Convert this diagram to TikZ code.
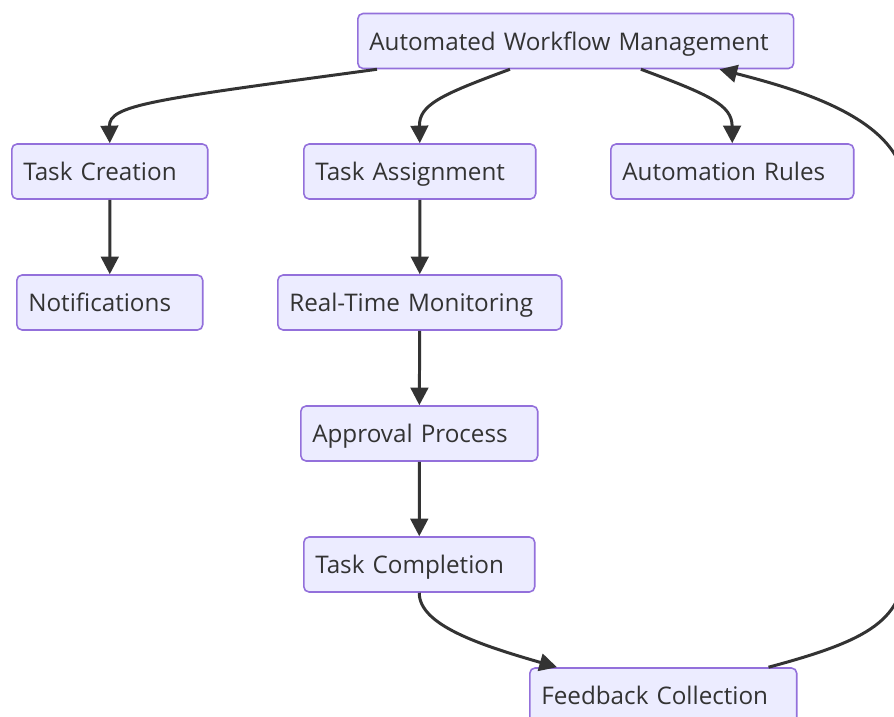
\documentclass[tikz,border=0pt]{standalone}
\usepackage{fontspec}
\setmainfont{Open Sans}
\usetikzlibrary{arrows.meta}
\definecolor{wfFill}{HTML}{ECECFF}
\definecolor{wfStroke}{HTML}{9370DB}
\definecolor{wfInk}{HTML}{333333}
\hyphenpenalty=10000

\begin{document}
\begin{tikzpicture}[
  x=0.02cm, y=-0.02cm,
  box/.style={
    rectangle, rounded corners=3pt, draw=wfStroke, fill=wfFill,
    line width=0.9pt, minimum height=1.1cm, inner xsep=0.23cm,
    text width=#1, align=left, anchor=west, text=wfInk,
    text height=1.04em, text depth=0pt,
    font=\fontsize{13.8}{16}\selectfont,
  },
  arr/.style={-{Triangle[length=10pt,width=10pt]}, line width=1.7pt, color=wfInk},
]
\clip (0,0) rectangle (894,717);

% Top node and its three children
\node[box=8.26cm] (awm) at (357,41) {Automated Workflow Management};
\node[box=3.46cm] (tcr) at (11,171.5)  {Task Creation};
\node[box=4.18cm] (tas) at (303,171.5) {Task Assignment};
\node[box=4.40cm] (aru) at (610,171.5) {Automation Rules};

% Lower rows
\node[box=3.26cm] (not) at (16,302.5)  {Notifications};
\node[box=5.22cm] (rtm) at (277,302.5) {Real-Time Monitoring};
\node[box=4.28cm] (apr) at (300,433.5) {Approval Process};
\node[box=4.16cm] (tco) at (303,564.5) {Task Completion};
\node[box=4.88cm] (fbc) at (529,695.5) {Feedback Collection};

\draw[arr] ([xshift=0.4cm]awm.south west) .. controls (150,100) and (109,105) .. (tcr.north);
\draw[arr] ([xshift=3.06cm]awm.south west) .. controls (440,95) and (419,105) .. (tas.north);
\draw[arr] ([xshift=5.68cm]awm.south west) .. controls (710,95) and (732,105) .. (aru.north);

\draw[arr] (tcr) -- (not);
\draw[arr] (tas) -- (rtm);
\draw[arr] (rtm) -- (apr);
\draw[arr] (apr) -- (tco);

\draw[arr] (tco.south) .. controls (419,625) and (480,645) .. ([xshift=0.56cm]fbc.north west);

% feedback loop back to the top
\draw[arr] ([xshift=-0.58cm]fbc.north east) .. controls (870,640) and (905,620) .. (905,560)
  -- (905,190) .. controls (905,120) and (800,90) .. ([xshift=-1.5cm]awm.south east);
\end{tikzpicture}
\end{document}
